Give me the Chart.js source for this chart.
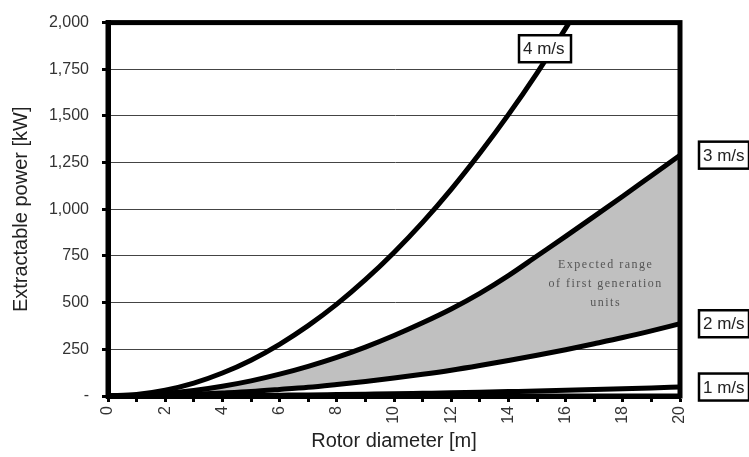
<!DOCTYPE html>
<html>
<head>
<meta charset="utf-8">
<script src="https://cdn.jsdelivr.net/npm/chart.js@4.4.1/dist/chart.umd.min.js"></script>
<style>
  body { margin: 0; background: #fff; }
  canvas { display: block; }
</style>
</head>
<body>
<canvas id="chart" width="749" height="457"></canvas>
<script>
// rotor diameter [m]
var diameters = [0, 1, 2, 3, 4, 5, 6, 7, 8, 9, 10, 11, 12, 13, 14, 15, 16, 17, 18, 19, 20];

// extractable power [kW]
var power1 = [0, 0.1, 0.5, 1, 2, 3, 4.5, 6, 8, 10, 12, 14.5, 17, 20, 23.5, 27, 31, 35, 39, 43, 48];
var power2 = [0, 1, 4, 9, 16, 24, 35, 47, 62, 78, 96, 116, 138, 163, 190, 218, 248, 280, 313, 349, 387];
var power3 = [0, 3, 13, 29, 52, 81, 117, 159, 207, 262, 324, 392, 466, 550, 645, 750, 855, 962, 1070, 1180, 1290];
var power4 = [0, 8, 31, 69, 123, 192, 277, 377, 492, 623, 769, 930, 1107, 1300, 1507, 1730, 1969, 2222, 2491, 2776, 3076];

var seriesNames = ['1 m/s', '2 m/s', '3 m/s', '4 m/s'];
var yTicks = [0, 250, 500, 750, 1000, 1250, 1500, 1750, 2000];
var rangeText = ['Expected range', 'of first generation', 'units'];

function points(values) {
    return diameters.map(function (d, i) {
        return { x: d, y: values[i] };
    });
}

function lineSet(name, values) {
    return {
        label: name,
        data: points(values),
        borderColor: '#000',
        borderWidth: 5,
        pointRadius: 0,
        cubicInterpolationMode: 'monotone',
        fill: false
    };
}

var set3 = lineSet(seriesNames[2], power3);
set3.fill = { target: 1 }; // shade down to the 2 m/s curve
set3.backgroundColor = '#c0c0c0';

function drawBox(ctx, text, left, cy, w, h) {
    ctx.fillStyle = '#fff';
    ctx.fillRect(left, cy - h / 2, w, h);
    ctx.lineWidth = 2.5;
    ctx.strokeStyle = '#000';
    ctx.strokeRect(left, cy - h / 2, w, h);
    ctx.fillStyle = '#222';
    ctx.font = '17px "Liberation Sans", Arial, sans-serif';
    ctx.textAlign = 'left';
    ctx.textBaseline = 'middle';
    ctx.fillText(text, left + 4, cy + 1);
}

var framePlugin = {
    id: 'frame',
    afterDatasetsDraw: function (chart) {
        var ctx = chart.ctx;
        var a = chart.chartArea;
        var x = chart.scales.x;
        var y = chart.scales.y;
        ctx.save();

        // heavy box round the plot
        ctx.lineWidth = 5;
        ctx.strokeStyle = '#000';
        ctx.strokeRect(a.left, a.top, a.right - a.left, a.bottom - a.top);

        // text inside the shaded range
        ctx.fillStyle = '#555';
        ctx.font = '12px "Liberation Serif", "Times New Roman", serif';
        ctx.letterSpacing = '1.5px';
        ctx.textAlign = 'center';
        ctx.textBaseline = 'middle';
        var tx = x.getPixelForValue(17.4);
        var ty = y.getPixelForValue(705);
        rangeText.forEach(function (t, i) {
            ctx.fillText(t, tx, ty + i * 19);
        });
        ctx.letterSpacing = '0px';

        // series labels
        var bx = x.getPixelForValue(15.28);
        var by = y.getPixelForValue(1860);
        drawBox(ctx, seriesNames[3], bx - 26, by, 52, 27);
        var ends = [power1, power2, power3];
        ends.forEach(function (vals, i) {
            drawBox(ctx, seriesNames[i], a.right + 19, y.getPixelForValue(vals[vals.length - 1]), 50, 27);
        });
        ctx.restore();
    }
};

var tickFont = { family: '"Liberation Sans", Arial, sans-serif', size: 16 };
var titleFont = { family: '"Liberation Sans", Arial, sans-serif', size: 20 };

new Chart(document.getElementById('chart'), {
    type: 'line',
    data: {
        datasets: [
            lineSet(seriesNames[0], power1),
            lineSet(seriesNames[1], power2),
            set3,
            lineSet(seriesNames[3], power4)
        ]
    },
    options: {
        responsive: false,
        animation: false,
        devicePixelRatio: 1,
        layout: { padding: { top: 21, right: 69, left: 0, bottom: 0 } },
        plugins: {
            legend: { display: false },
            tooltip: { enabled: false }
        },
        scales: {
            x: {
                type: 'linear',
                min: 0,
                max: 20,
                afterFit: function (s) { s.height = 61; },
                grid: {
                    drawOnChartArea: false,
                    drawTicks: true,
                    tickLength: 6,
                    tickColor: '#000',
                    tickWidth: 3
                },
                border: { color: '#000', width: 5 },
                ticks: {
                    stepSize: 1,
                    autoSkip: false,
                    minRotation: 90,
                    maxRotation: 90,
                    padding: 4,
                    color: '#333',
                    font: tickFont,
                    callback: function (v) { return v % 2 === 0 ? String(v) : ''; }
                },
                title: {
                    display: true,
                    text: 'Rotor diameter [m]',
                    color: '#222',
                    font: titleFont,
                    padding: { top: 0, bottom: 4 }
                }
            },
            y: {
                min: yTicks[0],
                max: yTicks[yTicks.length - 1],
                afterFit: function (s) { s.width = 108; },
                afterBuildTicks: function (s) {
                    s.ticks = yTicks.map(function (v) { return { value: v }; });
                },
                grid: {
                    color: '#444',
                    lineWidth: 1,
                    drawTicks: true,
                    tickLength: 6,
                    tickColor: '#000',
                    tickWidth: 3
                },
                border: { color: '#000', width: 5 },
                ticks: {
                    padding: 13,
                    color: '#333',
                    font: tickFont,
                    callback: function (v) { return v === 0 ? '-' : v.toLocaleString('en-US'); }
                },
                title: {
                    display: true,
                    text: 'Extractable power [kW]',
                    color: '#222',
                    font: titleFont,
                    padding: { top: 9, bottom: 0 }
                }
            }
        }
    },
    plugins: [framePlugin]
});
</script>
</body>
</html>
